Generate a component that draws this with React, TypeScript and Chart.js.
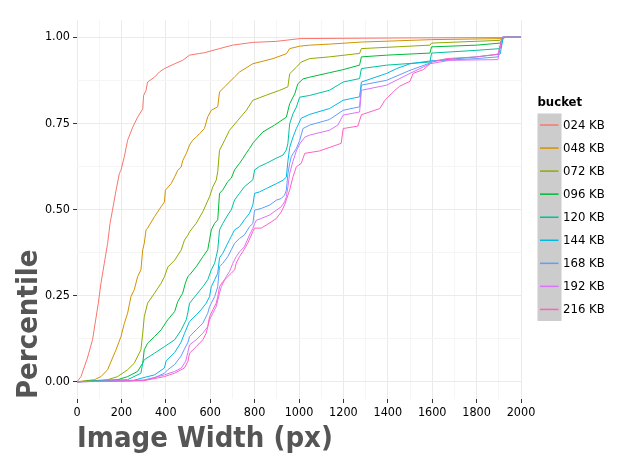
import React, { useEffect, useRef } from "react";
import { Chart, registerables } from "chart.js";

Chart.register(...registerables);

const bucketLabels = ["024 KB", "048 KB", "072 KB", "096 KB", "120 KB", "144 KB", "168 KB", "192 KB", "216 KB"];
const bucketColors = ["#F8766D", "#D39200", "#93AA00", "#00BA38", "#00C19F", "#00B9E3", "#619CFF", "#DB72FB", "#FF61C3"];

const xTickValues = [0, 100, 200, 300, 400, 500, 600, 700, 800, 900, 1000, 1100, 1200, 1300, 1400, 1500, 1600, 1700, 1800, 1900, 2000];
const yTickValues = [0, 0.125, 0.25, 0.375, 0.5, 0.625, 0.75, 0.875, 1];

const kb024: [number, number][] = [[0,0],[18,0.015],[47,0.069],[70,0.122],[96,0.228],[108,0.286],[123,0.344],[138,0.402],[149,0.46],[160,0.499],[176,0.556],[191,0.605],[198,0.614],[213,0.653],[228,0.701],[251,0.739],[273,0.768],[296,0.792],[300,0.831],[311,0.846],[318,0.87],[349,0.884],[371,0.899],[394,0.909],[440,0.923],[476,0.933],[507,0.948],[553,0.953],[574,0.955],[642,0.967],[701,0.977],[791,0.985],[898,0.988],[1004,0.996],[1500,0.998],[1920,0.999],[1930,1],[2000,1]];
const kb048: [number, number][] = [[0,0],[78,0.006],[108,0.015],[138,0.035],[160,0.069],[176,0.093],[198,0.131],[213,0.169],[228,0.199],[243,0.247],[258,0.267],[273,0.305],[288,0.325],[296,0.383],[303,0.402],[311,0.441],[318,0.446],[349,0.479],[379,0.508],[394,0.522],[398,0.556],[424,0.575],[440,0.595],[454,0.614],[469,0.623],[477,0.643],[492,0.662],[507,0.687],[521,0.701],[537,0.71],[552,0.72],[574,0.735],[589,0.769],[605,0.788],[634,0.798],[642,0.841],[665,0.856],[710,0.885],[732,0.899],[792,0.923],[883,0.938],[943,0.952],[958,0.967],[1003,0.974],[1048,0.977],[1137,0.98],[1281,0.986],[1597,0.993],[1920,0.996],[1930,1],[2000,1]];
const kb072: [number, number][] = [[0,0],[138,0.006],[183,0.015],[228,0.035],[258,0.054],[288,0.093],[296,0.141],[303,0.189],[318,0.228],[349,0.257],[379,0.286],[394,0.305],[409,0.333],[440,0.353],[469,0.382],[484,0.411],[499,0.425],[507,0.435],[537,0.46],[567,0.494],[597,0.537],[612,0.566],[627,0.585],[634,0.61],[642,0.672],[665,0.701],[687,0.73],[725,0.759],[763,0.788],[792,0.817],[853,0.832],[913,0.846],[950,0.856],[958,0.894],[988,0.913],[1010,0.928],[1048,0.938],[1137,0.943],[1273,0.953],[1281,0.967],[1590,0.977],[1597,0.983],[1906,0.991],[1920,1],[2000,1]];
const kb096: [number, number][] = [[0,0],[183,0.006],[228,0.015],[273,0.03],[296,0.054],[303,0.093],[318,0.112],[349,0.131],[379,0.151],[409,0.18],[440,0.204],[454,0.233],[476,0.257],[488,0.286],[499,0.305],[507,0.31],[537,0.334],[567,0.363],[589,0.383],[597,0.412],[605,0.441],[620,0.46],[634,0.47],[642,0.547],[657,0.557],[679,0.581],[695,0.591],[710,0.615],[732,0.634],[747,0.648],[762,0.663],[777,0.677],[795,0.695],[837,0.725],[890,0.745],[943,0.768],[958,0.807],[981,0.836],[995,0.865],[1018,0.879],[1048,0.884],[1137,0.897],[1199,0.906],[1273,0.919],[1281,0.943],[1395,0.948],[1590,0.954],[1597,0.972],[1800,0.977],[1906,0.983],[1920,1],[2000,1]];
const kb120: [number, number][] = [[0,0],[228,0.006],[288,0.025],[296,0.054],[303,0.064],[349,0.083],[394,0.102],[440,0.122],[469,0.15],[492,0.18],[499,0.2],[507,0.228],[537,0.252],[567,0.276],[589,0.296],[605,0.325],[620,0.344],[627,0.363],[634,0.383],[642,0.441],[657,0.46],[679,0.484],[695,0.499],[710,0.528],[732,0.547],[754,0.566],[792,0.586],[800,0.615],[822,0.625],[853,0.634],[898,0.649],[928,0.658],[943,0.673],[950,0.692],[958,0.749],[973,0.778],[988,0.797],[1003,0.826],[1048,0.831],[1137,0.846],[1199,0.87],[1273,0.88],[1281,0.909],[1395,0.919],[1590,0.928],[1597,0.954],[1800,0.962],[1906,0.967],[1920,1],[2000,1]];
const kb144: [number, number][] = [[0,0],[250,0.003],[288,0.01],[349,0.02],[394,0.04],[401,0.06],[440,0.085],[469,0.115],[484,0.14],[500,0.165],[507,0.175],[537,0.194],[559,0.209],[582,0.228],[597,0.247],[605,0.276],[620,0.296],[634,0.315],[642,0.36],[657,0.373],[679,0.402],[695,0.422],[710,0.441],[732,0.45],[754,0.47],[777,0.489],[792,0.513],[800,0.547],[822,0.551],[853,0.561],[898,0.575],[928,0.585],[943,0.594],[950,0.64],[958,0.68],[973,0.71],[988,0.735],[1010,0.765],[1048,0.776],[1137,0.793],[1199,0.817],[1273,0.827],[1281,0.87],[1395,0.895],[1440,0.909],[1500,0.923],[1590,0.931],[1800,0.943],[1906,0.951],[1920,1],[2000,1]];
const kb168: [number, number][] = [[0,0],[300,0.005],[350,0.012],[394,0.025],[409,0.035],[440,0.05],[469,0.075],[484,0.095],[500,0.115],[507,0.131],[537,0.151],[567,0.17],[589,0.199],[597,0.218],[605,0.228],[620,0.247],[634,0.276],[642,0.334],[657,0.344],[679,0.363],[695,0.383],[710,0.402],[732,0.416],[754,0.426],[777,0.45],[792,0.459],[800,0.498],[830,0.503],[868,0.513],[898,0.527],[920,0.532],[935,0.542],[943,0.556],[950,0.604],[958,0.633],[965,0.653],[973,0.662],[988,0.677],[1003,0.7],[1018,0.735],[1048,0.745],[1137,0.761],[1199,0.788],[1273,0.798],[1281,0.861],[1395,0.875],[1500,0.904],[1590,0.925],[1597,0.931],[1800,0.938],[1896,0.943],[1915,1],[2000,1]];
const kb192: [number, number][] = [[0,0],[300,0.004],[394,0.02],[440,0.03],[470,0.04],[490,0.06],[499,0.085],[507,0.107],[537,0.122],[567,0.141],[589,0.16],[597,0.18],[612,0.199],[627,0.218],[642,0.257],[650,0.276],[672,0.305],[687,0.32],[702,0.344],[717,0.363],[732,0.377],[754,0.392],[777,0.426],[792,0.445],[800,0.459],[808,0.469],[830,0.474],[868,0.484],[898,0.498],[920,0.508],[935,0.522],[943,0.537],[950,0.566],[958,0.605],[973,0.64],[988,0.67],[1003,0.69],[1026,0.71],[1048,0.716],[1137,0.73],[1175,0.745],[1199,0.774],[1273,0.783],[1281,0.846],[1395,0.861],[1500,0.895],[1590,0.923],[1679,0.933],[1896,0.935],[1915,1],[2000,1]];
const kb216: [number, number][] = [[0,0],[300,0.003],[394,0.015],[440,0.025],[484,0.04],[500,0.06],[507,0.083],[537,0.102],[567,0.122],[582,0.141],[589,0.16],[597,0.189],[612,0.209],[627,0.228],[634,0.247],[642,0.276],[657,0.291],[679,0.305],[695,0.315],[710,0.325],[717,0.344],[732,0.363],[747,0.378],[769,0.402],[792,0.436],[800,0.446],[830,0.446],[853,0.455],[875,0.464],[898,0.474],[920,0.493],[935,0.513],[943,0.528],[958,0.557],[973,0.595],[988,0.624],[1010,0.634],[1026,0.663],[1093,0.67],[1190,0.692],[1199,0.735],[1265,0.742],[1281,0.775],[1364,0.793],[1387,0.817],[1432,0.846],[1454,0.858],[1500,0.872],[1514,0.895],[1560,0.906],[1600,0.928],[1665,0.938],[1800,0.943],[1896,0.951],[1915,1],[2000,1]];

const bucketSeries = [kb024, kb048, kb072, kb096, kb120, kb144, kb168, kb192, kb216];

const xTitle = "Image Width (px)";
const yTitle = "Percentile";
const legendTitle = "bucket";

const FONT = "'DejaVu Sans Condensed', 'DejaVu Sans', sans-serif";

const overlayPlugin = {
  id: "overlay",
  afterDraw(chart: any) {
    const ctx = chart.ctx;
    const area = chart.chartArea;
    ctx.save();
    // axis titles
    ctx.fillStyle = "#555555";
    ctx.font = `bold 29px ${FONT}`;
    ctx.textAlign = "left";
    ctx.textBaseline = "alphabetic";
    ctx.fillText(xTitle, area.left, 447);
    ctx.save();
    ctx.translate(37, area.bottom);
    ctx.rotate(-Math.PI / 2);
    ctx.fillText(yTitle, 0, 0);
    ctx.restore();
    // legend
    const lx = 537.5;
    ctx.fillStyle = "#000000";
    ctx.font = `bold 13px ${FONT}`;
    ctx.textBaseline = "middle";
    ctx.fillText(legendTitle, lx, 103);
    const top = 113.5;
    const step = 23.05;
    ctx.fillStyle = "#CCCCCC";
    ctx.fillRect(lx, top, 24, step * bucketLabels.length);
    ctx.font = `13px ${FONT}`;
    bucketLabels.forEach((lab, i) => {
      const cy = top + step * (i + 0.5);
      ctx.strokeStyle = bucketColors[i];
      ctx.lineWidth = 1.5;
      ctx.beginPath();
      ctx.moveTo(lx + 2.5, cy);
      ctx.lineTo(lx + 21, cy);
      ctx.stroke();
      ctx.fillStyle = "#000000";
      ctx.fillText(lab, 563, cy + 0.5);
    });
    ctx.restore();
  },
};

export default function App() {
  const canvasRef = useRef<HTMLCanvasElement | null>(null);

  useEffect(() => {
    document.body.style.margin = "0";
    const canvas = canvasRef.current;
    if (!canvas) return;
    const isMajorX = (v: number) => Math.round(v) % 200 === 0;
    const isMajorY = (v: number) => Math.abs(v * 4 - Math.round(v * 4)) < 1e-6;
    const chart = new Chart(canvas, {
      type: "scatter",
      data: {
        datasets: bucketSeries.map((series, i) => ({
          label: bucketLabels[i],
          data: series.map(([x, y]) => ({ x, y })),
          showLine: true,
          borderColor: bucketColors[i],
          backgroundColor: bucketColors[i],
          borderWidth: 1,
          pointRadius: 0,
          pointHoverRadius: 0,
          tension: 0,
          order: bucketSeries.length - i,
        })),
      },
      options: {
        animation: false,
        responsive: false,
        devicePixelRatio: 1,
        layout: { padding: { top: 20, right: 122, left: 0, bottom: 0 } },
        plugins: { legend: { display: false }, tooltip: { enabled: false } },
        scales: {
          x: {
            type: "linear",
            min: 0,
            max: 2000,
            afterFit: (scale: any) => {
              scale.height = 60;
            },
            afterBuildTicks: (scale: any) => {
              scale.ticks = xTickValues.map((v) => ({ value: v }));
            },
            border: { display: false },
            grid: {
              color: (c: any) => (c.tick && isMajorX(c.tick.value) ? "#EBEBEB" : "#F5F5F5"),
              tickColor: (c: any) => (c.tick && isMajorX(c.tick.value) ? "#333333" : "rgba(0,0,0,0)"),
              tickLength: 4,
              lineWidth: 1,
            },
            ticks: {
              autoSkip: false,
              maxRotation: 0,
              padding: 2,
              color: "#000000",
              font: { family: FONT, size: 12.5 },
              callback: (v: any) => (isMajorX(Number(v)) ? String(v) : ""),
            },
          },
          y: {
            type: "linear",
            min: -0.05,
            max: 1.05,
            afterFit: (scale: any) => {
              scale.width = 77;
            },
            afterBuildTicks: (scale: any) => {
              scale.ticks = yTickValues.map((v) => ({ value: v }));
            },
            border: { display: false },
            grid: {
              color: (c: any) => (c.tick && isMajorY(c.tick.value) ? "#EBEBEB" : "#F5F5F5"),
              tickColor: (c: any) => (c.tick && isMajorY(c.tick.value) ? "#333333" : "rgba(0,0,0,0)"),
              tickLength: 4,
              lineWidth: 1,
            },
            ticks: {
              autoSkip: false,
              padding: 3,
              color: "#000000",
              font: { family: FONT, size: 12.5 },
              callback: (v: any) => (isMajorY(Number(v)) ? Number(v).toFixed(2) : ""),
            },
          },
        },
      },
      plugins: [overlayPlugin],
    } as any);
    return () => chart.destroy();
  }, []);

  return (
    <div style={{ width: 643, height: 459, background: "#ffffff" }}>
      <canvas ref={canvasRef} width={643} height={459} style={{ display: "block" }} />
    </div>
  );
}
